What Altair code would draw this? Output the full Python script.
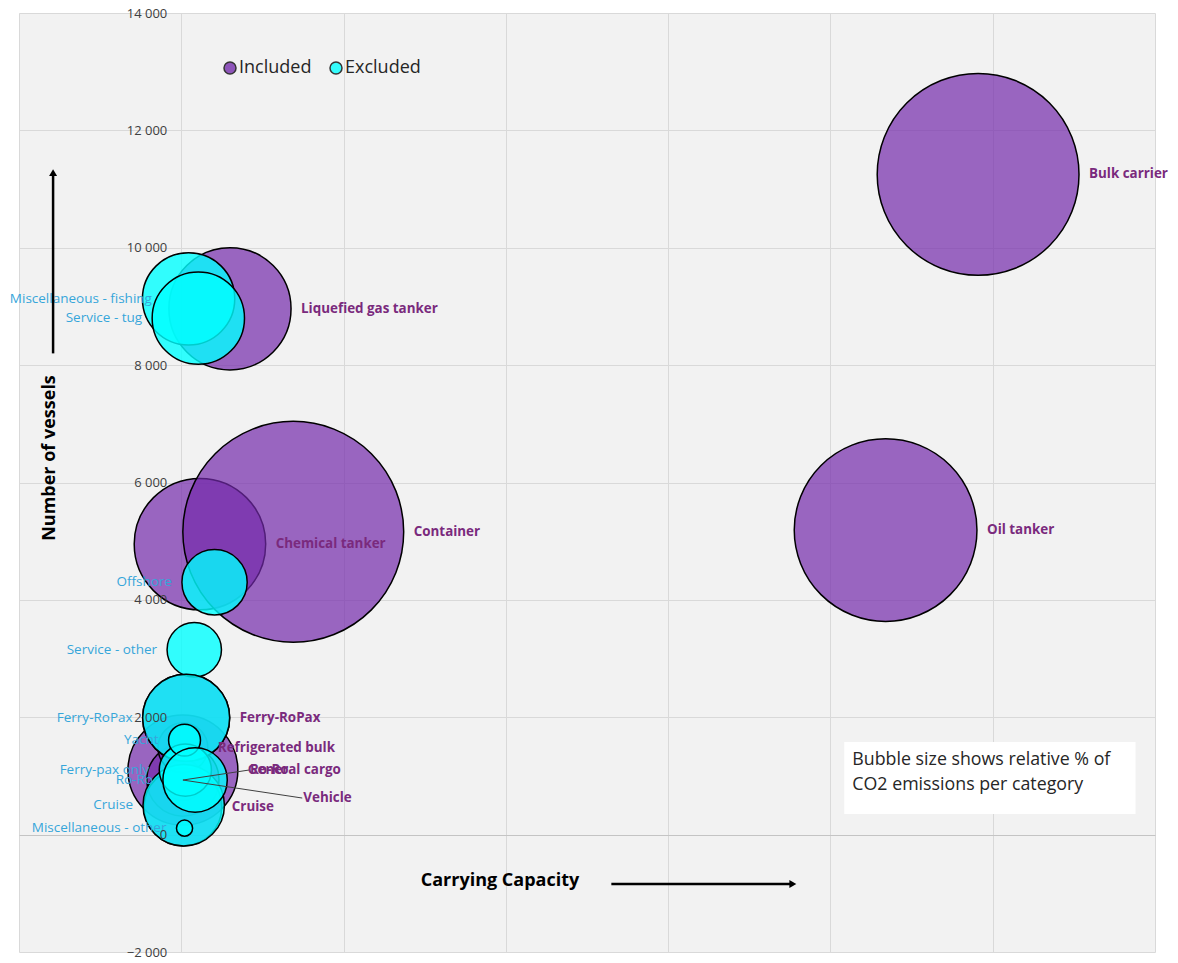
import altair as alt
import numpy as np
import pandas as pd

# ---- vessel categories inside the scope ----
incl_names = ["Bulk carrier", "Oil tanker", "Chemical tanker", "Container",
              "Liquefied gas tanker", "General cargo", "Ro-Ro", "Vehicle",
              "Refrigerated bulk", "Cruise", "Ferry-RoPax"]
incl_capacity = [491, 434, 11.5, 69, 30, 1, 1, 1, 1, 1, 3]
incl_vessels = [11250, 5190, 4950, 5160, 8960, 1100, 930, 930, 1480, 470, 1990]
incl_co2 = [17.2, 14.1, 7.3, 20.6, 6.3, 5.1, 2.2, 0.7, 1.05, 2.55, 3.2]

# ---- vessel categories outside the scope ----
excl_names = ["Miscellaneous - fishing", "Service - tug", "Offshore", "Service - other",
              "Ferry-RoPax", "Cruise", "Ferry-pax only", "Yacht", "Ro-Ro",
              "Miscellaneous - other"]
excl_capacity = [4.5, 10.5, 20.5, 8, 3, 1.5, 2.5, 2, 8.5, 2]
excl_vessels = [9130, 8800, 4300, 3150, 1990, 500, 1100, 1610, 930, 110]
excl_co2 = [3.6, 3.6, 1.8, 1.25, 3.2, 2.8, 1.15, 0.43, 1.75, 0.11]

groups = ["Included", "Excluded"]
group_colors = ["#732AAB", "#00FFFF"]
group_opacity = [0.7, 0.8]

y_ticks = list(range(-2000, 14001, 2000))
x_ticks = list(range(-100, 601, 100))

# plot geometry
W, H = 1136, 939
X_MIN, X_MAX = -100, 600
Y_MIN, Y_MAX = -2000, 14000
PX_X = W / (X_MAX - X_MIN)
PX_Y = H / (Y_MAX - Y_MIN)
AREA_PER_PCT = 2368          # bubble area (px^2) per % of CO2
LABEL_GAP = 10               # px between bubble edge and its label

# labels that are moved away from their bubble (px), some with a leader line
label_nudge = {("Included", "Ro-Ro"): (21, -10, True),
               ("Included", "Vehicle"): (90, 18, True),
               ("Excluded", "Miscellaneous - fishing"): (19.5, 0, False)}

rows = []
for g, names, xs, ys, cs in [("Included", incl_names, incl_capacity, incl_vessels, incl_co2),
                             ("Excluded", excl_names, excl_capacity, excl_vessels, excl_co2)]:
    for n, x, y, c in zip(names, xs, ys, cs):
        r = np.sqrt(c * AREA_PER_PCT) / 2
        side = 1 if g == "Included" else -1
        dx, dy, leader = label_nudge.get((g, n), (0, 0, False))
        lx = x + side * (r + LABEL_GAP) / PX_X + dx / PX_X
        ly = y - dy / PX_Y
        rows.append(dict(name=n, group=g, capacity=x, vessels=y, co2=c,
                         lx=lx, ly=ly, leader=leader,
                         lx_end=lx - 1 / PX_X, draw=len(rows)))
df = pd.DataFrame(rows)
leaders = df[df.leader]

x_scale = alt.Scale(domain=[X_MIN, X_MAX], nice=False, zero=False)
y_scale = alt.Scale(domain=[Y_MIN, Y_MAX], nice=False, zero=False)

x_axis = alt.Axis(values=x_ticks, labels=False, ticks=False, domain=False,
                  gridColor="#d9d9d9", title="Carrying Capacity",
                  titleX=480.5, titleY=-72, titleAlign="center", titleBaseline="middle",
                  titleFontSize=18, titleFontWeight="bold", titleColor="#000000")
# horizontal grid, kept behind the bubbles
y_grid_axis = alt.Axis(values=y_ticks, orient="left", labels=False, ticks=False,
                       domain=False, title=None,
                       gridColor={"condition": {"test": "datum.value === 0",
                                                "value": "#c4c4c4"},
                                  "value": "#d9d9d9"})
# tick labels and title, drawn above the bubbles along the zero line
y_label_axis = alt.Axis(values=y_ticks, orient="left", grid=False, offset=-162.3,
                        ticks=False, domain=False, zindex=1,
                        labelPadding=14.5, labelFontSize=13, labelColor="#404040",
                        labelExpr="replace(format(datum.value, ','), ',', ' ')",
                        title="Number of vessels", titleX=-132.3, titleY=444.5,
                        titleAngle=270, titleAlign="center", titleBaseline="middle",
                        titleFontSize=18, titleFontWeight="bold", titleColor="#000000")


def X(field):
    return alt.X(f"{field}:Q", scale=x_scale, axis=x_axis)


def Y(field, axis=None):
    return alt.Y(f"{field}:Q", scale=y_scale, axis=axis)


base = alt.Chart(df)

bubbles = base.mark_circle(opacity=1, stroke="#000000", strokeWidth=1.5).encode(
    x=X("capacity"),
    y=Y("vessels", y_grid_axis),
    size=alt.Size("co2:Q", scale=alt.Scale(type="linear", domain=[0, 100],
                                           range=[0, 100 * AREA_PER_PCT]), legend=None),
    color=alt.Color("group:N", scale=alt.Scale(domain=groups, range=group_colors),
                    legend=alt.Legend(title=None, orient="none", legendX=202, legendY=46,
                                      direction="horizontal", padding=0,
                                      labelFontSize=18, labelColor="#262626",
                                      symbolType="circle", symbolSize=144,
                                      symbolStrokeColor="#000000", symbolStrokeWidth=1.5,
                                      symbolOpacity=0.78, labelOffset=0,
                                      columnPadding=15)),
    fillOpacity=alt.FillOpacity("group:N", scale=alt.Scale(domain=groups, range=group_opacity),
                                legend=None),
    order=alt.Order("draw:Q"),
)

incl_labels = base.transform_filter(alt.datum.group == "Included").mark_text(
    align="left", baseline="middle", fontSize=13.4, fontWeight="bold", color="#7A2A7D"
).encode(x=X("lx"), y=Y("ly", y_label_axis), text="name:N")

excl_labels = base.transform_filter(alt.datum.group == "Excluded").mark_text(
    align="right", baseline="middle", fontSize=13.5, color="#36A6DA"
).encode(x=X("lx"), y=Y("ly"), text="name:N")

leader_lines = alt.Chart(leaders).mark_rule(color="#404040", strokeWidth=1).encode(
    x=X("capacity"), y=Y("vessels"), x2="lx_end:Q", y2="ly:Q")

# direction arrows next to the axis titles (data coordinates)
arrow_x = [-79, 265]
arrow_y = [8200, -840]
arrow_x2 = [-79, 379]
arrow_y2 = [11340, -840]
arrow_shape = ["triangle-up", "triangle-right"]
arr = pd.DataFrame(dict(x=arrow_x, y=arrow_y, x2=arrow_x2, y2=arrow_y2, shape=arrow_shape))
up = arr["shape"] == "triangle-up"
arr["x2_line"] = np.where(up, arr.x2, arr.x2 - 5 / PX_X)
arr["y2_line"] = np.where(up, arr.y2 - 5 / PX_Y, arr.y2)
arr["hx"] = np.where(up, arr.x2, arr.x2 - 3.5 / PX_X)
arr["hy"] = np.where(up, arr.y2 - 3.5 / PX_Y, arr.y2)

arrow_lines = alt.Chart(arr).mark_rule(color="#000000", strokeWidth=2.5).encode(
    x=X("x"), y=Y("y"), x2="x2_line:Q", y2="y2_line:Q")
arrow_heads = alt.Chart(arr).mark_point(filled=True, opacity=1, color="#000000", size=64).encode(
    x=X("hx"), y=Y("hy"),
    shape=alt.Shape("shape:N", scale=alt.Scale(domain=arrow_shape, range=arrow_shape), legend=None))

# note box explaining the bubble size
note = pd.DataFrame(dict(x=[408.5], x2=[588], y=[1578], y2=[351], tx=[413.5], ty=[1271],
                         text=["Bubble size shows relative % of\nCO2 emissions per category"]))
note_box = alt.Chart(note).mark_rect(color="#ffffff").encode(
    x=X("x"), x2="x2:Q", y=Y("y"), y2="y2:Q")
note_text = alt.Chart(note).mark_text(
    align="left", baseline="middle", fontSize=17.8, color="#262626", lineBreak="\n", lineHeight=25
).encode(x=X("tx"), y=Y("ty"), text="text:N")

chart = alt.layer(
    bubbles, note_box, note_text, leader_lines, incl_labels, excl_labels, arrow_lines, arrow_heads
).resolve_axis(
    y="independent"
).properties(
    width=W, height=H,
    autosize=alt.AutoSizeParams(type="none"),
    padding={"left": 19, "top": 13, "right": 23, "bottom": 11},
    background="#ffffff",
).configure(
    font="Open Sans"
).configure_view(
    stroke=None, fill="#f2f2f2"
).configure_axis(
    gridWidth=1
)

chart.save("out.html", embed_options={"renderer": "svg", "actions": False})
